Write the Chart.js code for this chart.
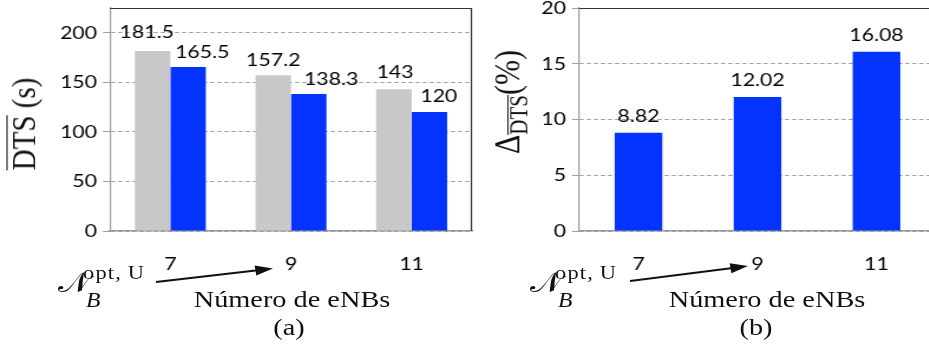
<!DOCTYPE html>
<html>
<head>
<meta charset="utf-8">
<script src="https://cdn.jsdelivr.net/npm/chart.js@4/dist/chart.umd.min.js"></script>
<style>
  html, body { margin: 0; padding: 0; background: #fff; overflow: hidden; width: 929px; height: 356px; }
  #stage { position: absolute; left: 0; top: 0; width: 790px; height: 356px; transform: scaleX(1.18); transform-origin: 0 0; }
  #stage canvas { position: absolute; top: 0; }
  .t { position: absolute; font-family: "Liberation Serif", "Times New Roman", serif; color: #111; white-space: nowrap; line-height: 1; }
  .c { transform: translate(-50%, -50%); }
  .l { transform: translate(0, -50%); }
  .rot { transform: translate(-50%, -50%) rotate(-90deg); }
  .ov { display: inline-block; border-top: 1.6px solid #111; padding-top: 1px; line-height: 0.85; }
  .it { font-style: italic; }
  svg { position: absolute; left: 0; top: 0; overflow: visible; }
</style>
</head>
<body>
<div id="stage">
  <canvas id="left" width="410" height="300" style="left:0"></canvas>
  <canvas id="right" width="390" height="300" style="left:410px"></canvas>
</div>
<script>
// number of eNBs on the x axis
const categories = ['7', '9', '11'];
// mean DTS (s) per configuration
const dtsReference = [181.5, 157.2, 143];
const dtsOptimized = [165.5, 138.3, 120];
// relative DTS reduction (%)
const dtsGain = [8.82, 12.02, 16.08];
// y axis tick values
const dtsTicks = [0, 50, 100, 150, 200];
const gainTicks = [0, 5, 10, 15, 20];

const SX = 1.18;                 // horizontal stretch of the whole figure
const tickFont = { family: 'Lato', size: 18 };
const GRAY = '#c8c8c8';
const BLUE = '#0433ff';

// value labels above bars, with per-bar nudges
const valueLabels = {
  id: 'valueLabels',
  afterDatasetsDraw(chart, args, opts) {
    const ctx = chart.ctx;
    ctx.save();
    ctx.font = '18px Lato';
    ctx.fillStyle = '#000';
    ctx.textAlign = 'center';
    ctx.textBaseline = 'middle';
    chart.data.datasets.forEach((ds, i) => {
      const meta = chart.getDatasetMeta(i);
      const nudges = (opts.nudges || [])[i] || [];
      meta.data.forEach((bar, j) => {
        const [dx, dy] = nudges[j] || [0, -16];
        ctx.fillText(String(ds.data[j]), bar.x + dx, bar.y + dy);
      });
    });
    ctx.restore();
  }
};

// dark top / right frame lines of the plot box
const frame = {
  id: 'frame',
  afterDraw(chart, args, opts) {
    const { ctx, chartArea: a } = chart;
    ctx.save();
    ctx.strokeStyle = '#333';
    ctx.lineWidth = 1.2;
    ctx.beginPath();
    ctx.moveTo(a.left, a.top + 0.5);
    ctx.lineTo(a.right, a.top + 0.5);
    if (opts.right) {
      ctx.moveTo(a.right - 0.5, a.top);
      ctx.lineTo(a.right - 0.5, a.bottom);
    }
    ctx.stroke();
    ctx.restore();
  }
};

function yScale(max, ticks, width) {
  return {
    min: 0, max: max,
    afterBuildTicks: s => { s.ticks = ticks.map(v => ({ value: v })); },
    afterFit: s => { s.width = width; s.paddingTop = 0; s.paddingBottom = 0; },
    ticks: { font: tickFont, color: '#000', padding: 5 },
    grid: { color: '#a0a0a0', tickLength: 6, tickColor: '#a0a0a0' },
    border: { display: true, color: '#9a9a9a', width: 1.2, dash: [3.5, 2.5] }
  };
}

function xScale() {
  return {
    afterFit: s => { s.height = 69; s.paddingLeft = 0; s.paddingRight = 0; },
    grid: { display: false },
    border: { display: true, color: '#9a9a9a', width: 1.5 },
    ticks: { font: tickFont, color: '#000', padding: 14 }
  };
}

const common = {
  responsive: false,
  animation: false,
  devicePixelRatio: 1,
  events: []
};

new Chart(document.getElementById('left'), {
  type: 'bar',
  data: {
    labels: categories,
    datasets: [
      { data: dtsReference, backgroundColor: GRAY, categoryPercentage: 0.588, barPercentage: 1 },
      { data: dtsOptimized, backgroundColor: BLUE, categoryPercentage: 0.588, barPercentage: 1 }
    ]
  },
  options: Object.assign({}, common, {
    layout: { padding: { top: 8, right: 10, left: 0, bottom: 0 } },
    scales: { x: xScale(), y: yScale(225, dtsTicks, 110 / SX) },
    plugins: {
      legend: { display: false }, tooltip: { enabled: false },
      frame: { right: true },
      valueLabels: { nudges: [
        [[-5, -19], [0, -15], [1, -17]],
        [[12, -15], [19, -15], [8, -16]]
      ] }
    }
  }),
  plugins: [valueLabels, frame]
});

new Chart(document.getElementById('right'), {
  type: 'bar',
  data: {
    labels: categories,
    datasets: [
      { data: dtsGain, backgroundColor: BLUE, categoryPercentage: 0.4, barPercentage: 1 }
    ]
  },
  options: Object.assign({}, common, {
    layout: { padding: { top: 8, right: 390 - (936 / SX - 410), left: 0, bottom: 0 } },
    scales: { x: xScale(), y: yScale(20, gainTicks, 579 / SX - 410) },
    plugins: {
      legend: { display: false }, tooltip: { enabled: false },
      frame: { right: false },
      valueLabels: { nudges: [[[0, -16], [0, -17], [0, -17]]] }
    }
  }),
  plugins: [valueLabels, frame]
});

// axis titles, captions and the N_B^{opt,U} callouts
const stage = document.getElementById('stage');
function put(html, cls, x, y, size) {
  const d = document.createElement('div');
  d.className = 't ' + cls;
  d.innerHTML = html;
  d.style.left = (x / SX) + 'px';
  d.style.top = y + 'px';
  d.style.fontSize = size + 'px';
  stage.appendChild(d);
  return d;
}

put('<span class="ov">DTS</span> (s)', 'rot', 24, 124, 29);
put('Δ<span style="font-size:21px;position:relative;top:7px"><span class="ov">DTS</span></span>(%)', 'rot', 507, 102, 30);

[[0, '(a)', 292, 289], [472, '(b)', 767, 756]].forEach(([off, cap, cx, capx]) => {
  put('𝒩', 'l', 58 + off, 283, 28);
  put('opt,&thinsp;U', 'l', 83 + off, 272, 19).style.letterSpacing = '1px';
  put('B', 'l it', 86 + off, 300, 20);
  put('Número de eNBs', 'c', cx, 299, 24);
  put(cap, 'c', capx, 327, 24);
});

const NS = 'http://www.w3.org/2000/svg';
const svg = document.createElementNS(NS, 'svg');
svg.setAttribute('width', 790);
svg.setAttribute('height', 356);
stage.appendChild(svg);
[[156, 282, 273, 268.5], [630, 281, 748, 266]].forEach(([x0, y0, x1, y1]) => {
  x0 /= SX; x1 /= SX;
  const dx = x1 - x0, dy = y1 - y0, len = Math.hypot(dx, dy);
  const ux = dx / len, uy = dy / len, nx = -uy, ny = ux;
  const bx = x1 - ux * 15, by = y1 - uy * 15;
  const line = document.createElementNS(NS, 'line');
  line.setAttribute('x1', x0); line.setAttribute('y1', y0);
  line.setAttribute('x2', bx + ux * 2); line.setAttribute('y2', by + uy * 2);
  line.setAttribute('stroke', '#111'); line.setAttribute('stroke-width', 2);
  svg.appendChild(line);
  const head = document.createElementNS(NS, 'polygon');
  head.setAttribute('points', `${x1},${y1} ${bx + nx * 5},${by + ny * 5} ${bx - nx * 5},${by - ny * 5}`);
  head.setAttribute('fill', '#111');
  svg.appendChild(head);
});
</script>
</body>
</html>
